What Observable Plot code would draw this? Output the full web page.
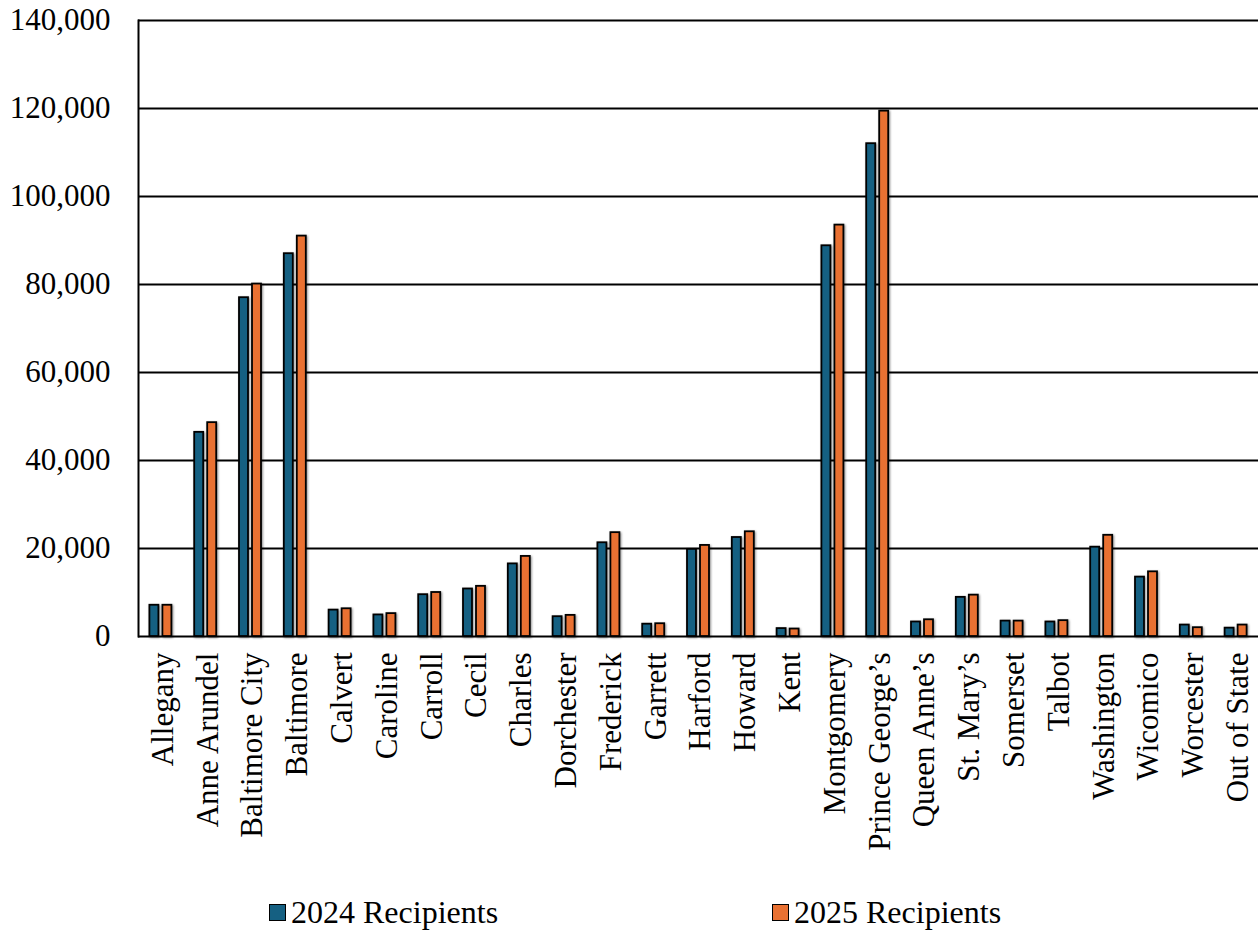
<!DOCTYPE html>
<html><head><meta charset="utf-8">
<script src="https://cdn.jsdelivr.net/npm/d3@7"></script>
<script src="https://cdn.jsdelivr.net/npm/@observablehq/plot@0.6"></script>
<style>
body{margin:0;background:#fff;font-family:"Liberation Serif","Times New Roman",serif;}
#chart svg{display:block}
g[aria-label="bar"] rect{filter:drop-shadow(1.5px 1.5px 1px rgba(0,0,0,0.45));}
.legend{position:relative;height:44px;width:1260px}
.item{position:absolute;top:0;display:flex;align-items:center;height:44px;}
.sw{width:17px;height:17px;border:1.5px solid #000;box-sizing:border-box;margin-right:5px}
.lbl{font-size:32px;color:#000;white-space:nowrap}
</style></head><body>
<div id="chart"></div>
<div class="legend" id="legend"></div>
<script>
const counties = ["Allegany","Anne Arundel","Baltimore City","Baltimore","Calvert","Caroline","Carroll","Cecil","Charles","Dorchester","Frederick","Garrett","Harford","Howard","Kent","Montgomery","Prince George’s","Queen Anne’s","St. Mary’s","Somerset","Talbot","Washington","Wicomico","Worcester","Out of State"];
const recipients2024 = [7100, 46400, 77000, 87000, 6000, 4900, 9500, 10800, 16500, 4500, 21300, 2800, 19800, 22500, 1800, 88800, 112000, 3300, 8900, 3500, 3300, 20300, 13500, 2600, 1900];
const recipients2025 = [7100, 48600, 80100, 91000, 6300, 5200, 10000, 11400, 18200, 4800, 23600, 2900, 20700, 23800, 1700, 93500, 119400, 3800, 9400, 3500, 3600, 23000, 14700, 2000, 2600];
const seriesNames = ["2024 Recipients","2025 Recipients"];
const seriesColors = ["#156082","#E97132"];
const yTicks = [0,20000,40000,60000,80000,100000,120000,140000];

const rows2024 = counties.map((c,i)=>({county:c, value:recipients2024[i]}));
const rows2025 = counties.map((c,i)=>({county:c, value:recipients2025[i]}));

const plot = Plot.plot({
  width:1260, height:890,
  marginLeft:138, marginRight:2, marginTop:20, marginBottom:254,
  style:{fontFamily:'"Liberation Serif","Times New Roman",serif', background:"white", color:"black", overflow:"visible"},
  x:{domain:counties, paddingInner:0.509, paddingOuter:0.2545, round:false, label:null},
  y:{domain:[0,140000], label:null},
  marks:[
    Plot.ruleY(yTicks,{stroke:"black",strokeWidth:2}),
    Plot.frame({anchor:"left", stroke:"black", strokeWidth:2}),
    Plot.barY(rows2024,{x:"county",y:"value",fill:seriesColors[0],stroke:"black",strokeWidth:1.8,insetRight:13}),
    Plot.barY(rows2025,{x:"county",y:"value",fill:seriesColors[1],stroke:"black",strokeWidth:1.8,insetLeft:13}),
    Plot.axisY({ticks:yTicks, tickFormat:d3.format(","), tickSize:0, tickPadding:28, fontSize:31, label:null}),
    Plot.axisX({tickRotate:-90, tickSize:0, tickPadding:16, fontSize:31, label:null, dx:2})
  ]
});
document.getElementById("chart").appendChild(plot);

const legendLefts = [269, 772];
const legend = document.getElementById("legend");
seriesNames.forEach((name,i)=>{
  const item = document.createElement("div");
  item.className = "item";
  item.style.left = legendLefts[i] + "px";
  const sw = document.createElement("div");
  sw.className = "sw"; sw.style.background = seriesColors[i];
  const lbl = document.createElement("span");
  lbl.className = "lbl"; lbl.textContent = name;
  item.appendChild(sw); item.appendChild(lbl);
  legend.appendChild(item);
});
</script>
</body></html>
